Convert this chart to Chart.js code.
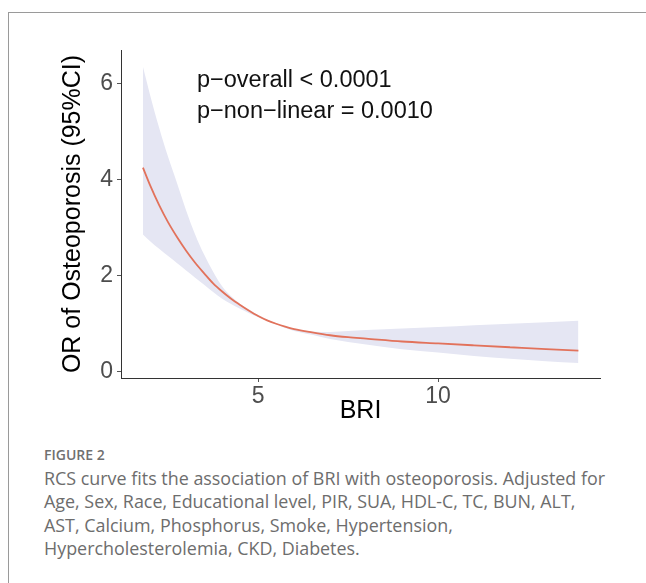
<!DOCTYPE html>
<html>
<head>
<meta charset="utf-8">
<script src="https://cdn.jsdelivr.net/npm/chart.js@4.4.1/dist/chart.umd.min.js"></script>
<style>
  html, body { margin: 0; padding: 0; background: #fff; overflow: hidden; }
  body { width: 646px; height: 583px; position: relative; }
  .frame { position: absolute; left: 8px; top: 12px; width: 700px; height: 700px;
           border-top: 1px solid #9a9a9a; border-left: 1px solid #9a9a9a; }
  #chartWrap { position: absolute; left: 0; top: 0; width: 646px; height: 440px; }
  .note { position: absolute; left: 197px; font-family: "Liberation Sans", Arial, sans-serif;
          font-size: 23.5px; color: #111; white-space: nowrap; line-height: 1; }
  .figlabel { position: absolute; left: 44px; top: 447px; font-family: "Open Sans", sans-serif;
              font-size: 14px; font-weight: 600; color: #707070; line-height: 16px; }
  .caption { position: absolute; left: 44px; top: 467px; font-family: "Open Sans", sans-serif;
             font-size: 17.9px; color: #6d6d6d; line-height: 23.4px; white-space: nowrap; }
</style>
</head>
<body>
<div class="frame"></div>
<div id="chartWrap"><canvas id="rcsChart" width="646" height="440"></canvas></div>
<div class="note" style="top:68px">p&minus;overall &lt; 0.0001</div>
<div class="note" style="top:99px">p&minus;non&minus;linear = 0.0010</div>
<div class="figlabel">FIGURE 2</div>
<div class="caption">RCS curve fits the association of BRI with osteoporosis. Adjusted for<br>Age, Sex, Race, Educational level, PIR, SUA, HDL-C, TC, BUN, ALT,<br>AST, Calcium, Phosphorus, Smoke, Hypertension,<br>Hypercholesterolemia, CKD, Diabetes.</div>
<script>
// BRI values along the fitted curve
const bri = [1.8, 2.0, 2.25, 2.5, 2.75, 3.0, 3.25, 3.5, 3.75, 4.0, 4.25, 4.5, 4.75, 5.0,
             5.25, 5.5, 5.75, 6.0, 6.5, 7.0, 7.5, 8.0, 9.0, 10, 11, 12, 13, 13.9];
// odds ratio estimate
const orFit = [4.25, 3.88, 3.47, 3.11, 2.80, 2.52, 2.27, 2.05, 1.84, 1.67, 1.52, 1.39, 1.27, 1.16,
               1.07, 1.00, 0.94, 0.89, 0.82, 0.76, 0.72, 0.69, 0.63, 0.59, 0.55, 0.51, 0.47, 0.44];
// 95% CI bounds
const ciUpper = [6.35, 5.76, 5.08, 4.47, 3.92, 3.36, 2.86, 2.44, 2.08, 1.78, 1.57, 1.41, 1.29, 1.18,
                 1.09, 1.01, 0.95, 0.90, 0.84, 0.83, 0.85, 0.87, 0.90, 0.93, 0.97, 1.00, 1.03, 1.06];
const ciLower = [2.86, 2.72, 2.56, 2.41, 2.26, 2.11, 1.96, 1.81, 1.66, 1.52, 1.41, 1.31, 1.22, 1.14,
                 1.06, 0.99, 0.91, 0.85, 0.77, 0.68, 0.62, 0.57, 0.47, 0.40, 0.33, 0.27, 0.22, 0.18];

const xTicks = [5, 10];
const yTicks = [0, 2, 4, 6];

const tickFont = { family: '"Liberation Sans", Arial, sans-serif', size: 23 };
const titleFont = { family: '"Liberation Sans", Arial, sans-serif', size: 25 };

function pts(ys) {
    return bri.map((x, i) => ({ x: x, y: ys[i] }));
}

const ctx = document.getElementById('rcsChart').getContext('2d');
new Chart(ctx, {
    type: 'line',
    data: {
        datasets: [
            {
                label: 'upper',
                data: pts(ciUpper),
                order: 2,
                borderWidth: 0,
                borderColor: 'rgba(0,0,0,0)',
                backgroundColor: '#e5e6f3',
                pointRadius: 0,
                fill: '+1',
                cubicInterpolationMode: 'monotone'
            },
            {
                label: 'lower',
                data: pts(ciLower),
                order: 1,
                borderWidth: 0,
                borderColor: 'rgba(0,0,0,0)',
                pointRadius: 0,
                fill: false,
                cubicInterpolationMode: 'monotone'
            },
            {
                label: 'OR',
                data: pts(orFit),
                order: 0,
                borderColor: '#e2725b',
                borderWidth: 1.8,
                pointRadius: 0,
                fill: false,
                cubicInterpolationMode: 'monotone'
            }
        ]
    },
    options: {
        responsive: false,
        animation: false,
        devicePixelRatio: 1,
        layout: { padding: { top: 50, right: 46, left: 0, bottom: 0 } },
        plugins: {
            legend: { display: false },
            tooltip: { enabled: false }
        },
        scales: {
            x: {
                type: 'linear',
                min: 1.19,
                max: 14.5,
                afterBuildTicks: s => { s.ticks = xTicks.map(v => ({ value: v })); },
                afterFit: s => { s.height = 62; },
                grid: { drawOnChartArea: false, drawTicks: true, tickLength: 4, color: '#555' },
                border: { color: '#333', width: 1 },
                ticks: { font: tickFont, color: '#4d4d4d', padding: 1, maxRotation: 0 },
                title: { display: true, text: 'BRI', font: titleFont, color: '#000',
                         padding: { top: 0, bottom: 14 } }
            },
            y: {
                min: -0.13,
                max: 6.7,
                afterBuildTicks: s => { s.ticks = yTicks.map(v => ({ value: v })); },
                afterFit: s => { s.width = 121; },
                grid: { drawOnChartArea: false, drawTicks: true, tickLength: 4, color: '#555' },
                border: { color: '#333', width: 1 },
                ticks: { font: tickFont, color: '#4d4d4d', padding: 4 },
                title: { display: true, text: 'OR of Osteoporosis (95%CI)', font: titleFont, color: '#000',
                         padding: { top: 58, bottom: 0 } }
            }
        }
    }
});
</script>
</body>
</html>
